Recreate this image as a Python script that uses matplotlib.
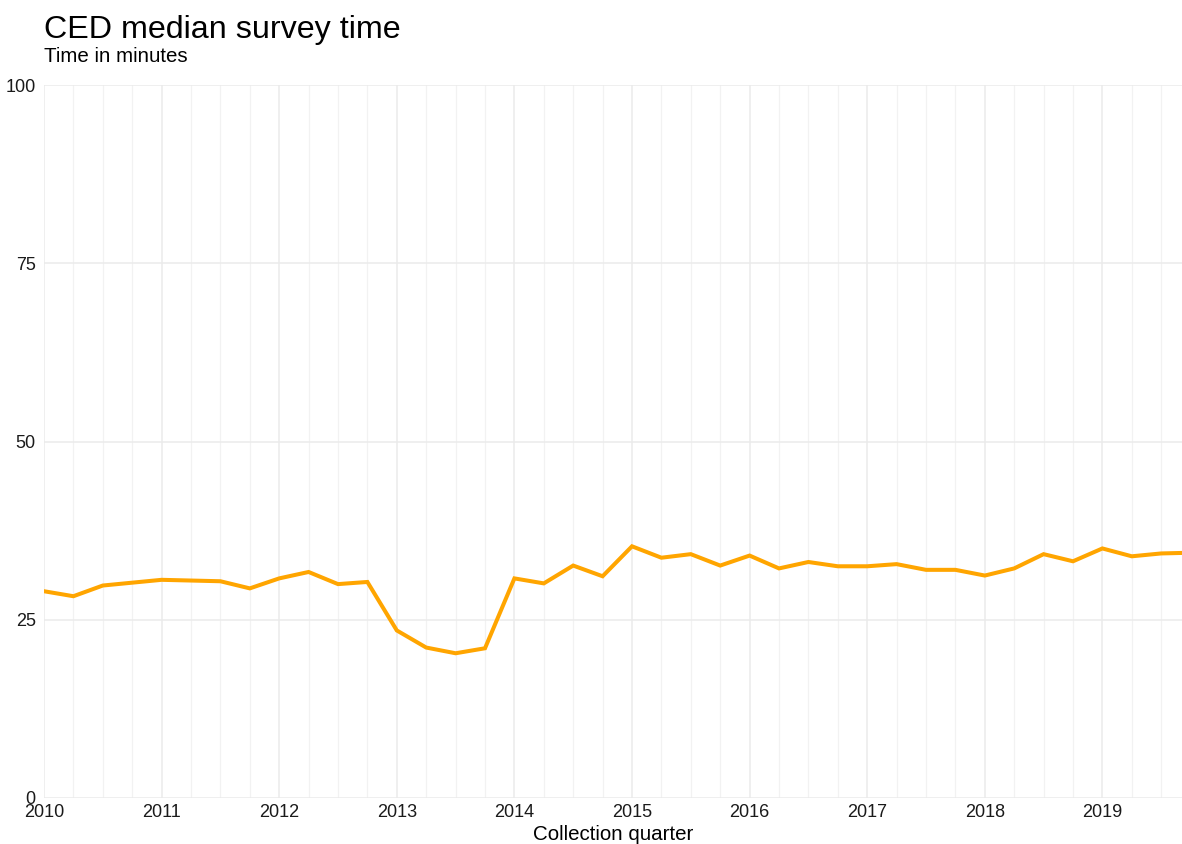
import matplotlib
matplotlib.use("Agg")
from matplotlib import pyplot as plt
from matplotlib.ticker import MultipleLocator
import numpy as np

plt.rcParams["font.family"] = ["Liberation Sans", "DejaVu Sans"]

# collection quarters 2010 Q1 .. 2019 Q4
years = [y for y in range(2010, 2020) for q in range(4)]
quarters = [q for y in range(2010, 2020) for q in range(1, 5)]

# median survey time, minutes
median_time = [
    29.0, 28.3, 29.8, 30.2,   # 2010
    30.6, 30.5, 30.4, 29.4,   # 2011
    30.8, 31.7, 30.0, 30.3,   # 2012
    23.5, 21.1, 20.3, 21.0,   # 2013
    30.8, 30.1, 32.6, 31.1,   # 2014
    35.3, 33.7, 34.2, 32.6,   # 2015
    34.0, 32.2, 33.1, 32.5,   # 2016
    32.5, 32.8, 32.0, 32.0,   # 2017
    31.2, 32.2, 34.2, 33.2,   # 2018
    35.0, 33.9, 34.3, 34.4,   # 2019
]

y_ticks = [0, 25, 50, 75, 100]
x_ticks = list(range(2010, 2020))

x = np.array(years) + (np.array(quarters) - 1) / 4

fig = plt.figure(figsize=(11.82, 8.44), dpi=100)
ax = fig.add_axes([44 / 1182, 1 - 798 / 844, 1 - 44 / 1182, (798 - 85) / 844])

ax.plot(x, median_time, color="#FFA500", linewidth=2.9, solid_joinstyle="miter",
        clip_on=True, zorder=3)

ax.set_ylim(0, 100)
ax.set_xlim(2010, 2010 + 1138 / 117.6)
ax.set_yticks(y_ticks)
ax.set_xticks(x_ticks)
ax.xaxis.set_minor_locator(MultipleLocator(0.25))

for s in ax.spines.values():
    s.set_visible(False)

ax.grid(which="major", color="#EBEBEB", linewidth=1.1)
ax.grid(which="minor", axis="x", color="#F2F2F2", linewidth=0.9)
ax.set_axisbelow(True)

ax.tick_params(which="both", length=0)
ax.tick_params(axis="x", labelsize=13, pad=4, labelcolor="#1A1A1A")
ax.tick_params(axis="y", labelsize=13, pad=6, labelcolor="#1A1A1A")

ax.set_xlabel("Collection quarter", fontsize=14.8, labelpad=3, color="black")

fig.text(44 / 1182, 1 - 38 / 844, "CED median survey time", fontsize=23.2,
         ha="left", va="baseline", color="black")
fig.text(44 / 1182, 1 - 62 / 844, "Time in minutes", fontsize=14.8,
         ha="left", va="baseline", color="black")

fig.savefig("out.png", dpi=100, facecolor="white")
